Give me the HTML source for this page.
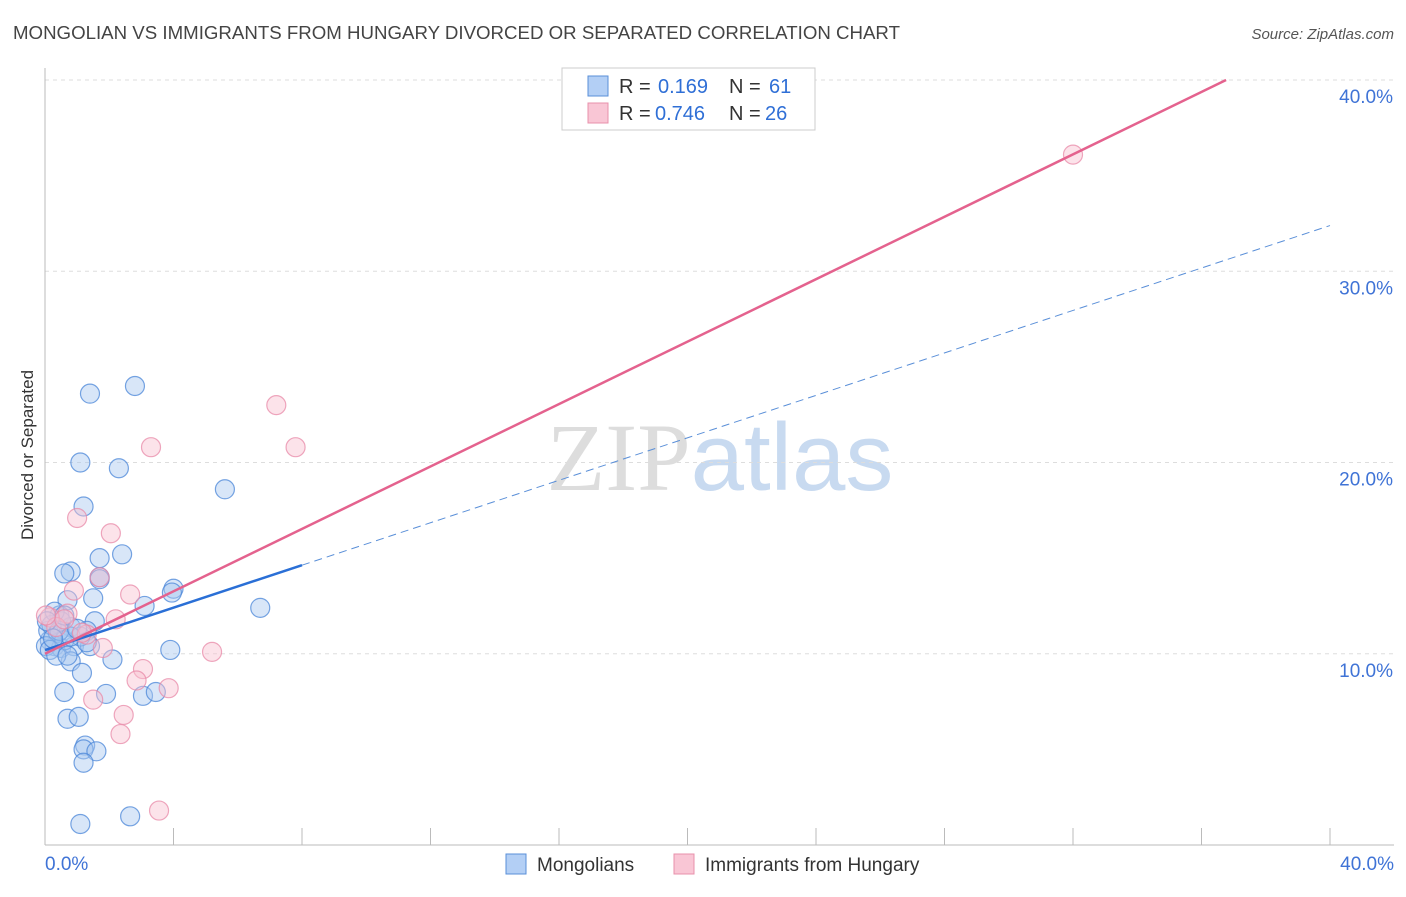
<!DOCTYPE html>
<html><head><meta charset="utf-8"><style>
body{margin:0;background:#fff;font-family:"Liberation Sans",sans-serif;}
svg text{font-family:"Liberation Sans",sans-serif;}
</style></head><body>
<svg id="chart" width="1406" height="892" xmlns="http://www.w3.org/2000/svg">
<text x="13" y="39" font-size="18" fill="#444" textLength="887" lengthAdjust="spacingAndGlyphs">MONGOLIAN VS IMMIGRANTS FROM HUNGARY DIVORCED OR SEPARATED CORRELATION CHART</text>
<text x="1394" y="39" font-size="15" fill="#555" font-style="italic" text-anchor="end">Source: ZipAtlas.com</text>
<text transform="translate(33,455) rotate(-90)" font-size="17" fill="#333" text-anchor="middle">Divorced or Separated</text>
<text x="720" y="490" font-size="96" text-anchor="middle"><tspan fill="#ddd" font-family="Liberation Serif">ZIP</tspan><tspan fill="#c8daf0">atlas</tspan></text>
<g id="grid"></g><g id="marks"></g>
<g>
<rect x="562" y="68" width="253" height="62" fill="#fff" stroke="#ccc"/>
<rect x="588" y="76" width="20" height="20" fill="#b3cff5" stroke="#5a8fd8"/>
<rect x="588" y="103" width="20" height="20" fill="#f9c6d5" stroke="#e890ab"/>
<text x="619" y="93" font-size="20" fill="#333">R = </text><text x="658" y="93" font-size="20" fill="#2f6fd6">0.169</text>
<text x="729" y="93" font-size="20" fill="#333">N = </text><text x="769" y="93" font-size="20" fill="#2f6fd6">61</text>
<text x="619" y="120" font-size="20" fill="#333">R = </text><text x="655" y="120" font-size="20" fill="#2f6fd6">0.746</text>
<text x="729" y="120" font-size="20" fill="#333">N = </text><text x="765" y="120" font-size="20" fill="#2f6fd6">26</text>
</g>
<g>
<rect x="506" y="854" width="20" height="20" fill="#b3cff5" stroke="#5a8fd8"/>
<text x="537" y="871" font-size="19" fill="#333">Mongolians</text>
<rect x="674" y="854" width="20" height="20" fill="#f9c6d5" stroke="#e890ab"/>
<text x="705" y="871" font-size="19" fill="#333">Immigrants from Hungary</text>
</g>
</svg>
<script>
const blueX=[1.4,2.8,1.1,2.3,5.6,1.2,1.7,2.4,0.8,0.6,1.7,1.5,0.7,4.0,3.95,3.1,6.7,0.45,1.55,0.8,1.3,0.5,0.15,0.3,0.5,0.9,1.4,1.1,3.9,2.1,0.8,1.15,0.6,1.9,3.05,3.45,0.7,1.05,1.25,1.2,1.6,1.2,1.1,2.65,0.1,0.2,0.4,0.6,0.03,0.3,0.45,0.8,0.15,0.06,0.35,0.6,1.0,1.3,0.25,0.7,1.7];
const blueY=[23.6,24.0,20.0,19.7,18.6,17.7,15.0,15.2,14.3,14.2,14.0,12.9,12.8,13.4,13.2,12.5,12.4,12.0,11.7,11.4,11.2,11.7,10.7,10.4,10.3,10.4,10.4,10.9,10.2,9.7,9.6,9.0,8.0,7.9,7.8,8.0,6.6,6.7,5.2,5.0,4.9,4.3,1.1,1.5,11.2,11.5,11.1,10.7,10.4,12.2,11.2,10.9,10.2,11.7,9.9,12.0,11.3,10.6,10.8,9.9,13.9];
const pinkX=[32.0,7.2,7.8,3.3,1.0,2.05,1.7,0.9,2.65,2.2,0.7,1.3,1.8,5.2,3.05,2.85,3.85,1.5,2.45,2.35,3.55,0.15,0.35,0.6,0.03,1.15];
const pinkY=[36.1,23.0,20.8,20.8,17.1,16.3,14.0,13.3,13.1,11.8,12.1,11.0,10.3,10.1,9.2,8.6,8.2,7.6,6.8,5.8,1.8,11.9,11.4,11.8,12.0,11.1];
const yTicks=[10,20,30,40];
const xTickLabels=["0.0%","40.0%"];
const blueFit=[10.19,0.555], pinkFit=[10.0,0.816];
const X=v=>45+v*32.125, Y=v=>845-v*19.125;
const NS="http://www.w3.org/2000/svg";
function mk(t,a,p){const e=document.createElementNS(NS,t);for(const k in a)e.setAttribute(k,a[k]);p.appendChild(e);return e;}
const g=document.getElementById('grid'), m=document.getElementById('marks');
for(const t of yTicks){
 const l=mk('line',{x1:45,x2:1394,y1:Y(t),y2:Y(t),stroke:'#ddd','stroke-dasharray':'4,4'},g);
 
 
 const tx=mk('text',{x:1393,y:Y(t)+23,'font-size':19,fill:'#3f73d6','text-anchor':'end'},g);
 tx.textContent=t.toFixed(1)+'%';
 
 
}
const ax=mk('line',{x1:45,x2:45,y1:68,y2:845,stroke:'#bbb'},g);


const bx=mk('line',{x1:45,x2:1394,y1:845,y2:845,stroke:'#bbb'},g);


for(let i=1;i<=10;i++){const l=mk('line',{x1:X(i*4),x2:X(i*4),y1:828,y2:845,stroke:'#bbb'},g);
 
 }
xTickLabels.forEach((s,i)=>{const t=mk('text',{x:i?1394:45,y:870,'font-size':19,fill:'#3f73d6','text-anchor':i?'end':'start'},g);t.textContent=s;
 
 });
function pts(xs,ys,fill,stroke,name){xs.forEach((x,i)=>{const c=mk('circle',{cx:X(x),cy:Y(ys[i]),r:9.5,fill:fill,'fill-opacity':0.45,stroke:stroke,'stroke-opacity':0.75,'stroke-width':1.2},m);
 
 });}
pts(blueX,blueY,'#a9c8f0','#4a86d8','mongolian-point');
pts(pinkX,pinkY,'#f8c0d0','#e88aa8','hungary-point');
const bl=mk('line',{x1:X(0),y1:Y(blueFit[0]),x2:X(8),y2:Y(blueFit[0]+8*blueFit[1]),stroke:'#2a6fd6','stroke-width':2.5},m);


const bd=mk('line',{x1:X(8),y1:Y(blueFit[0]+8*blueFit[1]),x2:X(40),y2:Y(blueFit[0]+40*blueFit[1]),stroke:'#5a8fd8','stroke-width':1,'stroke-dasharray':'8,5'},m);


const xe=(40-pinkFit[0])/pinkFit[1];
const pl=mk('line',{x1:X(0),y1:Y(pinkFit[0]),x2:X(xe),y2:Y(40),stroke:'#e4628e','stroke-width':2.5},m);


</script>
</body></html>
